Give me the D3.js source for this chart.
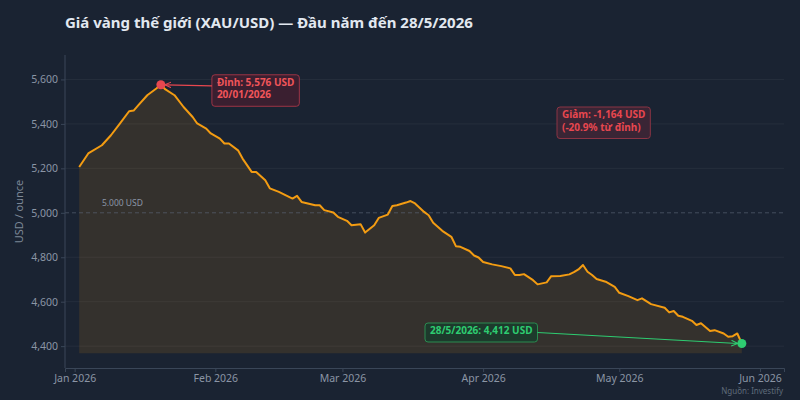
<!DOCTYPE html>
<html><head><meta charset="utf-8">
<script src="https://cdn.jsdelivr.net/npm/d3@7"></script>
<style>
html,body{margin:0;padding:0;background:#1a2332;}
svg{display:block;font-family:"Noto Sans","Open Sans",sans-serif;}
</style></head>
<body><svg id="c" width="800" height="400"></svg>
<script>
const dates = ["2026-01-02","2026-01-04","2026-01-07","2026-01-09","2026-01-11","2026-01-13","2026-01-14","2026-01-15","2026-01-17","2026-01-19","2026-01-20","2026-01-21","2026-01-23","2026-01-25","2026-01-27","2026-01-28","2026-01-30","2026-01-31",
"2026-02-02","2026-02-03","2026-02-04","2026-02-06","2026-02-07","2026-02-09","2026-02-10","2026-02-12","2026-02-13","2026-02-15","2026-02-18","2026-02-19","2026-02-20","2026-02-23","2026-02-24","2026-02-25","2026-02-27","2026-02-28",
"2026-03-02","2026-03-03","2026-03-05","2026-03-06","2026-03-08","2026-03-09","2026-03-11","2026-03-12","2026-03-13","2026-03-15","2026-03-16","2026-03-17","2026-03-19","2026-03-20","2026-03-21","2026-03-23","2026-03-25","2026-03-26","2026-03-27","2026-03-29","2026-03-30","2026-03-31",
"2026-04-01","2026-04-03","2026-04-05","2026-04-07","2026-04-08","2026-04-09","2026-04-10","2026-04-12","2026-04-13","2026-04-15","2026-04-16","2026-04-18","2026-04-20","2026-04-21","2026-04-22","2026-04-23","2026-04-24","2026-04-25","2026-04-26","2026-04-28","2026-04-30",
"2026-05-01","2026-05-03","2026-05-05","2026-05-06","2026-05-08","2026-05-11","2026-05-12","2026-05-13","2026-05-14","2026-05-15","2026-05-17","2026-05-18","2026-05-19","2026-05-21","2026-05-22","2026-05-24","2026-05-25","2026-05-26","2026-05-27","2026-05-28"];
const prices = [5206,5267,5304,5349,5402,5457,5460,5483,5529,5559,5576,5555,5529,5476,5431,5402,5379,5357,
5334,5312,5312,5281,5244,5184,5184,5146,5110,5094,5064,5076,5049,5034,5034,5012,5001,4982,
4964,4944,4949,4911,4944,4977,4992,5031,5034,5046,5053,5042,5004,4989,4955,4919,4892,4850,4847,4828,4808,4799,
4779,4768,4760,4750,4720,4720,4724,4697,4678,4687,4715,4716,4723,4733,4745,4765,4735,4720,4702,4690,4667,
4640,4625,4607,4615,4589,4573,4552,4558,4537,4532,4514,4495,4503,4468,4472,4457,4442,4445,4457,4412];
const yTicks = [4400,4600,4800,5000,5200,5400,5600];
const refValue = 5000;
const titleText = "Giá vàng thế giới (XAU/USD) — Đầu năm đến 28/5/2026";
const yLabel = "USD / ounce";
const sourceText = "Nguồn: Investify";

const parse = d3.timeParse("%Y-%m-%d");
const data = dates.map((d,i)=>({date:parse(d), v:prices[i]}));
const svg = d3.select("#c");
const L=65, R=784, T=55, B=368;
const vmin = d3.min(prices), vmax = d3.max(prices);
const x = d3.scaleTime().domain([new Date(2025,11,29,21), new Date(2026,5,6,7)]).range([L,R]);
const y = d3.scaleLinear().domain([vmin*0.975, vmax*1.02]).range([B,60]);

svg.append("rect").attr("width",800).attr("height",400).attr("fill","#1a2332");

// grid
svg.append("g").selectAll("line").data(yTicks.filter(t=>t!==refValue)).join("line")
  .attr("x1",L).attr("x2",R).attr("y1",d=>y(d)).attr("y2",d=>y(d))
  .attr("stroke","#ffffff").attr("stroke-opacity",0.05).attr("stroke-width",1);

// area
const base = vmin*0.99;
svg.append("path").datum(data)
  .attr("d", d3.area().x(d=>x(d.date)).y0(y(base)).y1(d=>y(d.v)))
  .attr("fill","#f39c12").attr("fill-opacity",0.12);

// reference line
svg.append("line").attr("x1",L).attr("x2",R).attr("y1",y(refValue)).attr("y2",y(refValue))
  .attr("stroke","#5a6678").attr("stroke-width",0.8).attr("stroke-dasharray","4,3").attr("stroke-opacity",0.8);
svg.append("text").attr("x",x(parse("2026-01-07"))).attr("y",y(refValue)-7)
  .attr("fill","#8b95a5").attr("font-size",8.5).text("5.000 USD");

// line
svg.append("path").datum(data)
  .attr("d", d3.line().x(d=>x(d.date)).y(d=>y(d.v)))
  .attr("fill","none").attr("stroke","#f39c12").attr("stroke-width",2).attr("stroke-linejoin","round");

// axes
const yAxis = svg.append("g").attr("transform",`translate(${L},0)`)
  .call(d3.axisLeft(y).tickValues(yTicks).tickFormat(d3.format(",")).tickSize(4).tickPadding(3));
const xAxis = svg.append("g").attr("transform",`translate(0,${B})`)
  .call(d3.axisBottom(x).ticks(d3.timeMonth.every(1)).tickFormat(d3.timeFormat("%b %Y")).tickSize(4).tickPadding(3));
[yAxis,xAxis].forEach(g=>{
  g.select(".domain").attr("stroke","#3a4658");
  g.selectAll(".tick line").attr("stroke","#3a4658");
  g.selectAll(".tick text").attr("fill","#8b95a5").attr("font-size",10.5).attr("font-family","Noto Sans, sans-serif");
});
yAxis.select(".domain").attr("d",`M-0,${T}V${B}`);

svg.append("text").attr("transform",`translate(23,${(T+B)/2}) rotate(-90)`).attr("text-anchor","middle")
  .attr("fill","#7c8796").attr("font-size",11).text(yLabel);

// title
svg.append("text").attr("x",L).attr("y",28).attr("fill","#e2e8f0").attr("font-size",15).attr("font-weight","bold").text(titleText);
svg.append("text").attr("x",783).attr("y",394).attr("text-anchor","end").attr("fill","#5f6b7a").attr("font-size",8).text(sourceText);

// defs arrows
const defs = svg.append("defs");
function marker(id,color){
  defs.append("marker").attr("id",id).attr("viewBox","0 0 10 10").attr("refX",9).attr("refY",5)
    .attr("markerWidth",6).attr("markerHeight",6).attr("orient","auto")
    .append("path").attr("d","M0,1L9,5L0,9").attr("fill","none").attr("stroke",color).attr("stroke-width",1.5);
}
marker("ar","#e8474f"); marker("ag","#2ecc71");

function box(x0,y0,lines,color,fill,stroke){
  const g = svg.append("g");
  const r = g.append("rect");
  const t = g.append("text").attr("fill",color).attr("font-size",10).attr("font-weight","bold");
  lines.forEach((s,i)=>t.append("tspan").attr("x",x0+5).attr("y",y0+11+i*12.5).text(s));
  const bb = t.node().getBBox();
  r.attr("x",x0).attr("y",y0).attr("width",bb.width+10).attr("height",bb.height+5).attr("rx",3)
   .attr("fill",fill).attr("stroke",stroke).attr("stroke-width",1);
  return {x0,y0,w:bb.width+10,h:bb.height+5};
}

// peak
const peak = data.find(d=>d.v===vmax);
const last = data[data.length-1];
const px = x(peak.date), py = y(peak.v);
const pb = box(px+51, py-10, [`Đỉnh: ${d3.format(",")(peak.v)} USD`, d3.timeFormat("%d/%m/%Y")(peak.date)], "#f0555a", "#3a1f30", "#9c3446");
svg.append("line").attr("x1",pb.x0).attr("y1",pb.y0+11).attr("x2",px+4).attr("y2",py)
  .attr("stroke","#e8474f").attr("stroke-width",1.2).attr("marker-end","url(#ar)");
svg.append("circle").attr("cx",px).attr("cy",py).attr("r",4.5).attr("fill","#e8474f");

// drop
const drop = peak.v - last.v;
box(557,107,[`Giảm: -${d3.format(",")(drop)} USD`, `(-${(drop/peak.v*100).toFixed(1)}% từ đỉnh)`], "#e8474f", "#3a2535", "#8a3444");

// last
const lx = x(last.date), ly = y(last.v);
const lb = box(425,323,[`28/5/2026: ${d3.format(",")(last.v)} USD`], "#2ecc71", "#1d3a2c", "#2a8c50");
svg.append("line").attr("x1",lb.x0+lb.w).attr("y1",lb.y0+lb.h/2).attr("x2",lx-4).attr("y2",ly)
  .attr("stroke","#2ecc71").attr("stroke-width",1.2).attr("marker-end","url(#ag)");
svg.append("circle").attr("cx",lx).attr("cy",ly).attr("r",4.5).attr("fill","#2ecc71");
</script></body></html>
